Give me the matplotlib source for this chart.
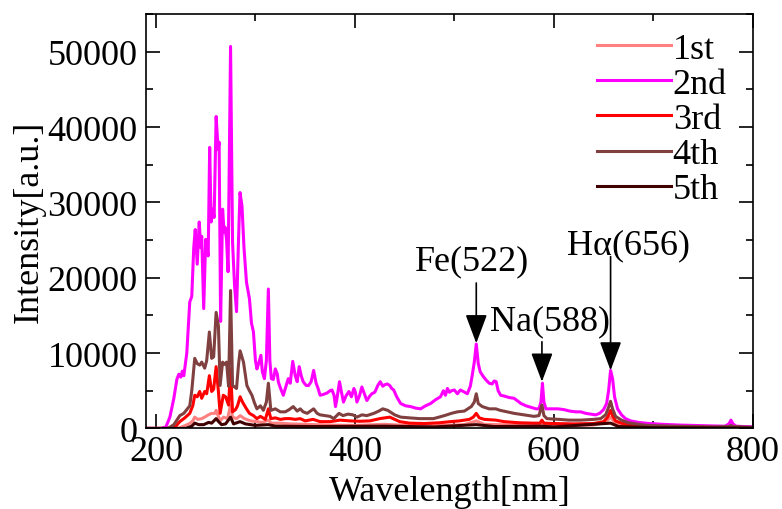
import matplotlib
matplotlib.use('Agg')
import matplotlib.pyplot as plt
from matplotlib.ticker import MultipleLocator

plt.rcParams['font.family'] = ['Liberation Serif', 'DejaVu Serif']

# 2nd shot (magenta)
wl_2nd = [190, 205, 210, 214, 218, 221, 223, 225, 226.5, 228, 231, 234, 236, 238, 239.5, 241.5,
          243.5, 245, 246, 248, 250, 252.5, 254, 255.5, 257, 258.5, 260.5, 262.5, 263.5, 265,
          267, 268.5, 269.5, 271, 272.5, 275, 277, 279, 281, 283, 284.5, 286.5, 288.5, 291,
          294, 296, 298, 300, 301.5, 303, 305.5, 307, 309, 311, 313, 314.5, 316, 318, 320,
          322, 323, 325, 328, 330.5, 333, 335, 337.5, 340, 342, 344, 346, 348, 351, 353.5,
          356, 358.5, 361, 363, 365, 368, 372, 375, 377, 379, 380.5, 382, 384.5, 386.5,
          388.5, 391, 394, 396.5, 399, 400.5, 402, 404.5, 407, 409.5, 412, 415, 417, 420,
          423, 425.5, 428, 430, 432.5, 435, 437, 439, 442, 446, 451, 456, 461, 466, 471,
          476, 481, 486, 489, 491, 493, 495, 497, 500, 503, 506, 509, 513, 516, 518, 520,
          522, 524, 526, 529, 532, 535, 538, 540, 542, 544, 546.5, 550, 555, 560, 564, 567,
          572, 577, 582, 585, 587, 588.5, 590, 592, 597, 604, 610, 616, 622, 627, 632, 637,
          642, 646, 650, 653, 655, 657, 659, 661, 664, 668, 672, 677, 685, 695, 710, 728,
          745, 760, 772, 776, 778, 780, 783, 790, 800]
int_2nd = [0, 0, 200, 1500, 4000, 6500, 7200, 6800, 7600, 7000, 10000, 16800, 17500, 24000,
           26400, 21800, 27400, 24000, 25500, 15900, 25100, 22900, 37300, 27400, 29100, 28000,
           41400, 37000, 38000, 14200, 29100, 26000, 26700, 25000, 20800, 50700, 24700, 19000,
           15500, 25000, 31300, 29500, 24000, 19400, 17200, 14000, 12800, 9000, 7900, 8500,
           9700, 7500, 6600, 9000, 18500, 9000, 6600, 6500, 7900, 7200, 6200, 5400, 4400,
           5500, 6600, 6000, 8900, 7000, 6200, 8200, 7000, 6200, 5700, 5700, 6200, 7700,
           6000, 5300, 4400, 4500, 4700, 5000, 5100, 4400, 2900, 4000, 6200, 4800, 3500,
           4300, 4900, 4200, 5300, 4800, 3500, 4300, 5500, 4600, 3700, 4300, 4600, 4800,
           5700, 6200, 5600, 5800, 5900, 5700, 5300, 5100, 4200, 3300, 3000, 2900, 2700,
           2600, 3000, 3300, 3800, 4200, 5000, 4400, 5300, 4800, 5000, 5100, 4600, 5100,
           4900, 4600, 5600, 7100, 8800, 11200, 8600, 7500, 6900, 6400, 6000, 5900, 6300,
           6200, 5000, 4400, 4300, 4100, 4000, 3600, 3300, 3000, 2800, 2600, 2600, 3500,
           6000, 3500, 2600, 2600, 2600, 2500, 2300, 2200, 2200, 2000, 1900, 1800, 2000,
           2500, 3300, 5000, 7700, 6600, 4200, 2600, 1800, 1300, 1000, 800, 660, 540, 440,
           380, 330, 300, 600, 1100, 600, 300, 250, 220]

# 4th shot (brown)
wl_4th = [190, 212, 218, 224, 228, 231, 234, 236, 239, 241.5, 244, 246, 249, 251, 253.7, 256,
          258, 260.5, 262.8, 264.5, 267, 269, 271, 273, 275, 277, 279, 281, 283, 284.6, 288,
          291.4, 294, 296.5, 299, 301.5, 305, 308, 311, 313, 315.5, 320, 325, 330, 334, 338,
          342, 345, 348, 352, 358.5, 362, 365, 370, 375, 378.7, 381, 384, 388, 393, 398, 402,
          407, 412, 419, 424, 428, 433, 440, 446, 455, 465, 479, 490, 497, 503, 510, 517,
          520, 522, 524, 528, 535, 541.6, 546, 553, 560, 570, 580, 585, 588, 590, 593, 605,
          615, 627, 640, 647, 652, 655, 657, 659, 662, 668, 675, 685, 694, 720, 760, 776,
          778, 780, 800]
int_4th = [0, 0, 500, 1700, 2000, 2500, 3000, 5000, 9300, 8600, 8400, 8800, 8000, 9000, 12800,
           9300, 9500, 15400, 13600, 5700, 8800, 8500, 8800, 5600, 18300, 5700, 5500, 5300,
           8500, 10300, 8800, 5700, 5000, 4400, 3400, 2600, 3000, 2400, 3500, 6000, 2400,
           2600, 2200, 2200, 2500, 2900, 2300, 2600, 2200, 2000, 2600, 2000, 1800, 1700,
           1600, 1300, 1600, 2000, 1700, 1900, 1800, 1500, 1800, 1700, 2000, 2300, 2600,
           2400, 1800, 1500, 1400, 1300, 1300, 1700, 2000, 2200, 2300, 2900, 3500, 4600,
           3300, 2900, 2600, 2600, 2400, 2200, 2000, 1800, 1600, 1700, 3100, 1700, 1300,
           1200, 1100, 1100, 1200, 1300, 1800, 2800, 3600, 2600, 1600, 1100, 750, 550, 400,
           300, 200, 250, 400, 250, 150]

# 3rd shot (red)
wl_3rd = [190, 215, 220, 224, 229, 234, 237, 239, 241.5, 244, 246, 249, 251, 253.7, 256, 258,
          260.5, 262.8, 264.5, 267.7, 270, 273, 275, 277, 280, 282, 284.6, 287, 291, 294, 298,
          301.5, 305, 310, 313, 315.5, 320, 325, 330, 335, 340, 345, 350, 358, 365, 375, 385,
          395, 405, 415, 425, 435, 445, 455, 470, 485, 496, 505, 515, 519, 522, 525, 530,
          541.6, 550, 565, 580, 586, 588, 590, 600, 620, 640, 650, 654, 657, 659, 662, 668,
          680, 700, 740, 800]
int_3rd = [0, 0, 300, 900, 1400, 2000, 3000, 4400, 4200, 4900, 4000, 4900, 4600, 7000, 4900,
           5200, 8200, 4900, 2000, 4400, 4200, 3100, 7900, 2200, 2500, 3000, 4200, 3500, 2600,
           2000, 1700, 1300, 1600, 1200, 2600, 1300, 1400, 1200, 1300, 1300, 1200, 1300, 1000,
           1200, 900, 900, 1100, 1000, 950, 1000, 1300, 1500, 900, 700, 650, 750, 900, 1000,
           1200, 1500, 2000, 1400, 1200, 1100, 900, 750, 700, 700, 1100, 700, 650, 600, 650,
           900, 1500, 2400, 1700, 1000, 700, 400, 250, 150, 100]

# 1st shot (pink)
wl_1st = [190, 222, 228, 234, 237, 239, 242, 246, 249, 252.7, 256, 259.5, 260.5, 262.5, 264.5,
          268, 272, 275, 277, 281, 284.6, 289, 295, 301.5, 307, 313, 316, 325, 335, 350, 370,
          400, 430, 450, 480, 510, 522, 530, 560, 588, 600, 640, 652, 657, 661, 670, 700, 800]
int_1st = [0, 0, 300, 660, 1000, 1500, 1200, 1300, 1500, 1800, 2000, 2000, 2400, 1700, 1000,
           1500, 1300, 3100, 1500, 1300, 1700, 1300, 1000, 900, 800, 1100, 700, 700, 600, 550,
           450, 400, 550, 400, 350, 500, 1000, 550, 450, 600, 400, 450, 800, 1500, 800, 400,
           200, 100]

# 5th shot (dark)
wl_5th = [190, 230, 236, 239, 243, 248, 253, 256, 260.5, 263, 266, 270, 275, 278, 284.6, 290,
          300, 313, 320, 360, 430, 480, 522, 540, 588, 600, 657, 665, 700, 800]
int_5th = [0, 0, 300, 700, 500, 500, 800, 700, 1300, 900, 500, 600, 1500, 600, 900, 600, 400,
           500, 300, 250, 300, 200, 500, 250, 300, 200, 700, 250, 100, 50]

fig = plt.figure(figsize=(7.82, 5.10), dpi=100)
ax = fig.add_axes([0.1867, 0.158, 0.776, 0.8125])

lw = 2.2
ax.plot(wl_1st, int_1st, color='#ff8080', lw=lw, label='1st')
ax.plot(wl_2nd, int_2nd, color='#ff00ff', lw=lw, label='2nd')
ax.plot(wl_3rd, int_3rd, color='#ff0000', lw=lw, label='3rd')
ax.plot(wl_4th, int_4th, color='#804040', lw=lw, label='4th')
ax.plot(wl_5th, int_5th, color='#400000', lw=lw, label='5th')

ax.set_xlim(190, 800)
ax.set_ylim(0, 55000)
ax.xaxis.set_major_locator(MultipleLocator(200))
ax.xaxis.set_minor_locator(MultipleLocator(100))
ax.yaxis.set_major_locator(MultipleLocator(10000))
ax.yaxis.set_minor_locator(MultipleLocator(5000))
ax.tick_params(which='both', direction='in', top=True, right=True, labelsize=26, width=1.2)
ax.tick_params(which='major', length=10)
ax.tick_params(which='minor', length=5)
ax.tick_params(axis='y', pad=6)
ax.tick_params(axis='x', pad=5)
for s in ax.spines.values():
    s.set_linewidth(1.2)

ax.set_xlabel('Wavelength[nm]', fontsize=26, labelpad=4.5)
ax.set_ylabel('Intensity[a.u.]', fontsize=26, labelpad=1)

leg = ax.legend(loc='upper left', bbox_to_anchor=(0.743, 0.955), frameon=False, fontsize=26,
                handlelength=2.05, handletextpad=0.05, labelspacing=0.05, borderpad=0,
                borderaxespad=0)

arrow = dict(arrowstyle='-|>,head_length=0.4,head_width=0.15', mutation_scale=45,
             color='k', lw=1.2, shrinkA=0, shrinkB=0)
ax.annotate('', xy=(522, 11300), xytext=(522, 19300), arrowprops=arrow)
ax.annotate('', xy=(588, 6200), xytext=(588, 11500), arrowprops=arrow)
ax.annotate('', xy=(657, 7700), xytext=(657, 22800), arrowprops=arrow)
ax.text(518, 22300, 'Fe(522)', fontsize=26, ha='center', va='center')
ax.text(596, 14300, 'Na(588)', fontsize=26, ha='center', va='center')
ax.text(675, 24400, 'H\u03b1(656)', fontsize=26, ha='center', va='center')

fig.savefig('out.png', dpi=100)
